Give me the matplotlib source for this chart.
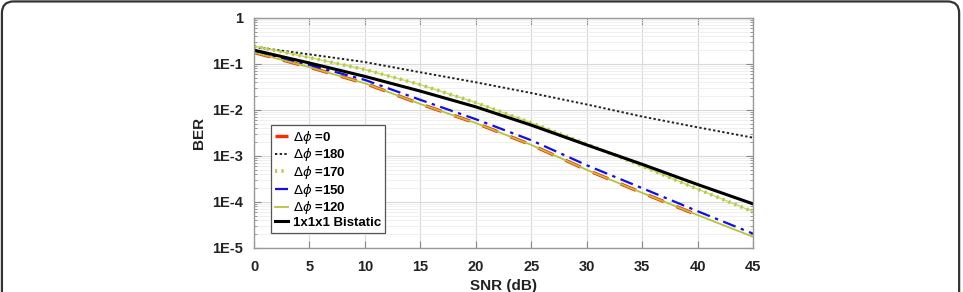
import numpy as np
import matplotlib
matplotlib.use("Agg")
import matplotlib.pyplot as plt
from matplotlib.patches import FancyBboxPatch

plt.rcParams['font.family'] = ['Liberation Sans', 'DejaVu Sans']
plt.rcParams['mathtext.fontset'] = 'dejavusans'

# SNR points (dB) and BER
snr = [0, 5, 10, 15, 20, 25, 30, 35, 40, 45]
ber_0 = [0.178, 0.085, 0.038, 0.0135, 0.0052, 0.00174, 0.00050, 0.000158, 5.2e-05]
ber_180 = [0.234, 0.162, 0.110, 0.066, 0.040, 0.0234, 0.0132, 0.0072, 0.0042, 0.0025]
ber_170 = [0.245, 0.138, 0.0759, 0.0355, 0.01445, 0.00525, 0.00182, 0.000603, 0.000191, 6.17e-05]
ber_150 = [0.19, 0.095, 0.045, 0.0166, 0.0063, 0.0022, 0.00063, 0.0002, 6.3e-05, 2.05e-05]
ber_120 = [0.178, 0.085, 0.038, 0.0135, 0.0052, 0.00174, 0.00050, 0.000158, 5.2e-05, 1.75e-05]
ber_bistatic = [0.20, 0.105, 0.0537, 0.0257, 0.0117, 0.00468, 0.00174, 0.00066, 0.00024, 9.1e-05]

fig = plt.figure(figsize=(9.63, 2.92), dpi=100)
ax = fig.add_axes([0.2638, 0.1507, 0.5182, 0.7877])

ax.plot(snr[:len(ber_0)], ber_0, color='#ff2a00', lw=2.4, ls=(0, (5, 4)), label=r'$\Delta\phi$ =0')
ax.plot(snr, ber_180, color='#222222', lw=1.4, ls=(0, (1.2, 1.2)), label=r'$\Delta\phi$ =180')
ax.plot(snr, ber_170, color='#c8d96a', lw=1.0, label='_nolegend_')
ax.plot(snr, ber_170, color='#b7c94a', lw=2.6, ls=(0, (0.6, 1.2)), label=r'$\Delta\phi$ =170')
ax.plot(snr, ber_150, color='#1010e0', lw=1.6, ls=(0, (6, 2.5, 1.5, 2.5)), label=r'$\Delta\phi$ =150')
ax.plot(snr, ber_120, color='#b8c23a', lw=1.3, label=r'$\Delta\phi$ =120')
ax.plot(snr, ber_bistatic, color='black', lw=2.2, label='1x1x1 Bistatic')

ax.set_yscale('log')
ax.set_xlim(0, 45)
ax.set_ylim(1e-5, 1)
ax.set_xticks(np.arange(0, 46, 5))
ax.set_yticks([1e-5, 1e-4, 1e-3, 1e-2, 1e-1, 1])
ax.set_yticklabels(['1E-5', '1E-4', '1E-3', '1E-2', '1E-1', '1'])

ax.grid(True, which='major', color='#d9d9d9', lw=0.8)
ax.grid(True, which='minor', axis='y', color='#eeeeee', lw=0.6)
ax.tick_params(which='both', direction='in', top=True, right=True, colors='#888888',
               labelcolor='#222222', labelsize=10.5)
ax.tick_params(which='major', length=5)
ax.tick_params(which='minor', length=2.5)
ax.tick_params(axis='x', pad=9)
ax.tick_params(axis='y', pad=8)
for lab in ax.get_xticklabels() + ax.get_yticklabels():
    lab.set_fontweight('bold')
for sp in ax.spines.values():
    sp.set_color('#999999')
    sp.set_linewidth(1.0)

ax.set_xlabel('SNR (dB)', fontsize=11, fontweight='bold', color='#222222', labelpad=3)
ax.set_ylabel('BER', fontsize=11, fontweight='bold', color='#222222', labelpad=4)

leg = ax.legend(loc='lower left', bbox_to_anchor=(0.034, 0.065),
                prop={'weight': 'bold', 'size': 9.5}, handlelength=1.0, handletextpad=0.35,
                labelspacing=0.05, borderpad=0.3, borderaxespad=0.0, fancybox=False, framealpha=1)
leg.get_frame().set_edgecolor('#555555')
leg.get_frame().set_linewidth(0.9)

# rounded frame around the figure
frame = FancyBboxPatch((0.002, -0.2), 0.994, 1.195, boxstyle='round,pad=0,rounding_size=0.012',
                       transform=fig.transFigure, fill=False, edgecolor='#333333', lw=1.6,
                       clip_on=False, mutation_aspect=3.3)
fig.patches.append(frame)

fig.savefig('out.png', dpi=100)
